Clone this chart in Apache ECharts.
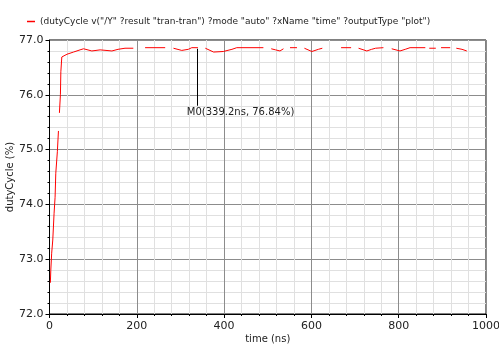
<!DOCTYPE html>
<html>
<head>
<meta charset="utf-8">
<script src="https://cdn.jsdelivr.net/npm/echarts@6/dist/echarts.min.js"></script>
<style>
  html, body { margin: 0; padding: 0; background: #fff; }
  #chart { width: 499px; height: 344px; }
</style>
</head>
<body>
<div id="chart"></div>
<script>
// time (ns) and duty cycle (%); null marks a break in the trace
var times = [2, 3, 5, 7.5, 10.5, 12.8, 14.4, 18, 20.5, 21.5, 22.7, 25, 26, 28.2, 40, 55, 70, 78, 97, 116, 143, 157, 173, 192,
  205, 219, 265, 275, 284, 303, 318, 326, 340, 348, 357, 376, 398, 418, 429, 490, 499,
  508, 518, 528, 536, 543, 551, 567, 575, 584, 601, 616, 625, 645, 668, 691, 700,
  708, 727, 738, 747, 765, 775, 784, 803, 815, 826, 861, 865, 870, 885, 891, 897, 918, 925, 932, 945, 956];
var duty = [72.57, 72.8, 73.11, 73.35, 73.84, 74.13, 74.57, 74.96, 75.34, null, 75.67, 76.0, 76.42, 76.69, 76.74, 76.78, 76.82, 76.84, 76.80, 76.82, 76.80, 76.83, 76.85, 76.85,
  null, 76.86, 76.86, null, 76.85, 76.81, 76.83, 76.86, 76.86, null, 76.85, 76.78, 76.79, 76.83, 76.86, 76.86, null,
  76.84, 76.82, 76.80, 76.84, null, 76.86, 76.86, null, 76.85, 76.79, 76.83, 76.85, null, 76.86, 76.86, null,
  76.85, 76.80, 76.83, 76.85, 76.86, null, 76.84, 76.80, 76.83, 76.86, 76.86, null, 76.85, 76.85, null, 76.86, 76.86, null, 76.85, 76.83, 76.80];

var seriesName = '(dutyCycle v("/Y" ?result "tran-tran") ?mode "auto" ?xName "time" ?outputType "plot")';
var markerTime = 339.2;
var markerValue = 76.84;
var markerLabel = 'M0(339.2ns, 76.84%)';

var points = [];
for (var i = 0; i < times.length; i++) {
  points.push([times[i], duty[i] == null ? '-' : duty[i]]);
}

var chart = echarts.init(document.getElementById('chart'));

var option = {
  animation: false,
  textStyle: { fontFamily: 'DejaVu Sans' },
  grid: {
    left: 49.5, right: 13, top: 40, bottom: 30,
    containLabel: false, outerBoundsMode: 'none',
    show: true, borderColor: '#000', borderWidth: 1
  },
  legend: {
    left: 22, top: 12,
    itemWidth: 8, itemHeight: 1.5, itemGap: 4,
    textStyle: { fontSize: 9, color: '#222', fontFamily: 'DejaVu Sans' },
    data: [{ name: seriesName, icon: 'rect', itemStyle: { color: '#ff0000', borderWidth: 0 } }]
  },
  xAxis: {
    type: 'value', min: 0, max: 1000, interval: 200,
    name: 'time (ns)', nameLocation: 'middle', nameGap: 20, nameMoveOverlap: false,
    nameTextStyle: { fontSize: 10, color: '#222' },
    axisLine: { show: true, lineStyle: { color: '#000' } },
    axisTick: { show: true, length: 4, lineStyle: { color: '#000' } },
    minorTick: { show: true, splitNumber: 5, length: 2, lineStyle: { color: '#000' } },
    axisLabel: { fontSize: 11, color: '#222', margin: 7, formatter: function (v) { return String(v); } },
    splitLine: { show: true, lineStyle: { color: '#8c8c8c' } },
    minorSplitLine: { show: true, lineStyle: { color: '#e0e0e0' } }
  },
  yAxis: {
    type: 'value', min: 72, max: 77, interval: 1,
    name: 'dutyCycle (%)', nameLocation: 'middle', nameGap: 34, nameMoveOverlap: false,
    nameTextStyle: { fontSize: 10, color: '#222' },
    axisLine: { show: true, lineStyle: { color: '#000' } },
    axisTick: { show: true, length: 4, lineStyle: { color: '#000' } },
    minorTick: { show: true, splitNumber: 5, length: 2, lineStyle: { color: '#000' } },
    axisLabel: { fontSize: 11, color: '#222', margin: 6, formatter: function (v) { return v.toFixed(1); } },
    splitLine: { show: true, lineStyle: { color: '#8c8c8c' } },
    minorSplitLine: { show: true, lineStyle: { color: '#e0e0e0' } }
  },
  series: [{
    name: seriesName,
    type: 'line',
    data: points,
    symbol: 'none',
    connectNulls: false,
    lineStyle: { color: '#ff0000', width: 1 },
    itemStyle: { color: '#ff0000' },
    markLine: {
      silent: true,
      symbol: ['none', 'none'],
      lineStyle: { color: '#000', width: 1, type: 'solid' },
      label: { show: false },
      data: [[{ coord: [markerTime, markerValue] }, { coord: [markerTime, 75.8] }]]
    },
    markPoint: {
      silent: true,
      symbol: 'rect',
      symbolSize: 0,
      label: {
        show: true, position: 'bottom', distance: 2, offset: [43, 0],
        formatter: markerLabel, fontSize: 10, color: '#222', fontFamily: 'DejaVu Sans'
      },
      data: [{ coord: [markerTime, 75.8] }]
    }
  }]
};

chart.setOption(option);
</script>
</body>
</html>
